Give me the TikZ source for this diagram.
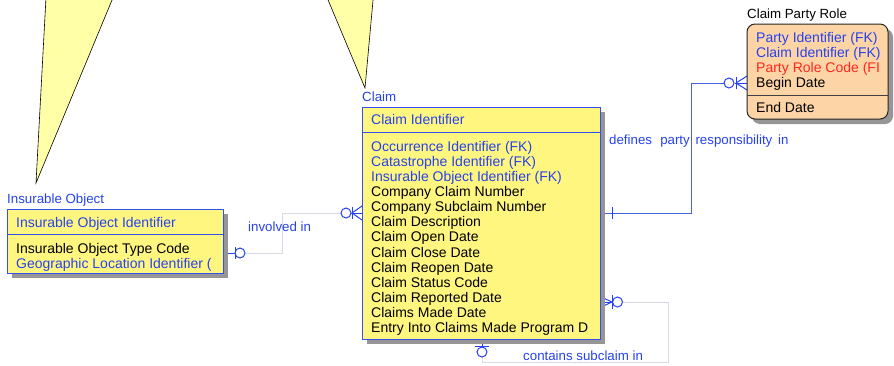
\documentclass[tikz,border=0pt]{standalone}
\usepackage{fontspec}
\setmainfont{Liberation Sans}
\usetikzlibrary{calc}
\definecolor{erblue}{RGB}{38,66,236}
\definecolor{boxblue}{RGB}{50,80,240}
\definecolor{yellowbox}{RGB}{255,246,128}
\definecolor{triyellow}{RGB}{255,255,168}
\definecolor{orangebox}{RGB}{253,212,166}
\definecolor{shadowc}{RGB}{150,150,150}
\definecolor{relgray}{RGB}{214,218,230}
\definecolor{linkblue}{RGB}{68,98,226}
\definecolor{redtxt}{RGB}{255,40,30}
\begin{document}
\begin{tikzpicture}[x=1pt,y=-1pt,
  txt/.style={inner sep=0pt, anchor=base west, font=\fontsize{14}{15}\selectfont},
  ttl/.style={inner sep=0pt, anchor=base west, font=\fontsize{13.3}{15}\selectfont},
  ybox/.style={draw=boxblue, line width=1pt, fill=yellowbox, anchor=north west, inner sep=0pt, outer sep=0pt},
  obox/.style={draw=black!85, line width=1pt, fill=orangebox, anchor=north west, inner sep=0pt, outer sep=0pt, rounded corners=8pt},
  shad/.style={fill=shadowc},
  relg/.style={draw=relgray, line width=1pt},
  relb/.style={draw=linkblue, line width=1pt},
  symb/.style={draw=erblue, line width=1pt},
  ring/.style={draw=erblue, line width=1pt, fill=white},
  tri/.style={draw=black, line width=0.6pt, fill=triyellow}
]
\useasboundingbox (0,0) rectangle (894,365);

% triangles (cut by the top edge)
\begin{scope}
\clip (0,0) rectangle (894,365);
\path[tri] (46.4,-10) -- (116.2,-10) -- (36,183) -- cycle;
\path[tri] (326,-5) -- (373.5,-5) -- (365,88) -- cycle;
\end{scope}

% entity anchors (boxes placed first so connectors can use names)
\path (362,107) coordinate (claimNW) (600,339) coordinate (claimSE);
\path (7,209) coordinate (ioNW) (223,273) coordinate (ioSE);
\path (747,24) coordinate (cprNW) (888,119) coordinate (cprSE);

% connection points
\coordinate (io-r) at (223,253);
\coordinate (cl-l) at (362,213);
\coordinate (cl-r1) at (600,213);
\coordinate (cpr-l) at (747,83);
\coordinate (cl-r2) at (600,302);
\coordinate (cl-b) at (482,339);

% ---------- involved in ----------
\draw[relg] (io-r) -- ++(59,0) |- (cl-l);
\draw[symb] (io-r) -- ++(12,0);
\draw[symb] ($(io-r)+(12,-6)$) -- ++(0,12);
\draw[ring] ($(io-r)+(17,0)$) circle (5);
\draw[symb] ($(cl-l)+(-11,0)$) -- (cl-l);
\draw[symb] ($(cl-l)+(-10,-6)$) -- ++(0,12);
\draw[symb] ($(cl-l)+(-10,0)$) -- ($(cl-l)+(0,-7)$);
\draw[symb] ($(cl-l)+(-10,0)$) -- ($(cl-l)+(0,7)$);
\draw[ring] ($(cl-l)+(-16,0)$) circle (5);

% ---------- defines party responsibility in ----------
\draw[relb] (cl-r1) -- ++(91,0) |- ($(cpr-l)+(-23,0)$);
\draw[symb] ($(cl-r1)+(12,-6)$) -- ++(0,12);
\draw[symb] ($(cpr-l)+(-12,0)$) -- (cpr-l);
\draw[symb] ($(cpr-l)+(-11,-6)$) -- ++(0,12);
\draw[symb] ($(cpr-l)+(-11,0)$) -- ($(cpr-l)+(0,-7)$);
\draw[symb] ($(cpr-l)+(-11,0)$) -- ($(cpr-l)+(0,7)$);
\draw[ring] ($(cpr-l)+(-18,0)$) circle (5);

% ---------- contains subclaim in ----------
\draw[relg] ($(cl-r2)+(22,0)$) -- ($(cl-r2)+(68,0)$) |- ($(cl-b)+(0,23)$) -- ($(cl-b)+(0,18)$);
\draw[symb] (cl-r2) -- ++(12.5,0);
\draw[symb] ($(cl-r2)+(12,0)$) -- ($(cl-r2)+(0,-5.5)$);
\draw[symb] ($(cl-r2)+(12,0)$) -- ($(cl-r2)+(0,5.5)$);
\draw[symb] ($(cl-r2)+(12,-7)$) -- ++(0,14);
\draw[ring] ($(cl-r2)+(17.5,0)$) circle (5);
\draw[symb] (cl-b) -- ++(0,8);
\draw[symb] ($(cl-b)+(-7,7)$) -- ++(14,0);
\draw[ring] ($(cl-b)+(0,13)$) circle (5);

% ---------- shadows ----------
\fill[shad] ($(claimNW)+(5,5)$) rectangle ($(claimSE)+(5,5)$);
\fill[shad] ($(ioNW)+(5,5)$) rectangle ($(ioSE)+(5,5)$);
\fill[shad, rounded corners=8pt] ($(cprNW)+(5,5)$) rectangle ($(cprSE)+(5,5)$);

% ---------- entity boxes ----------
\node[ybox, minimum width=238pt, minimum height=232pt] (claim) at (claimNW) {};
\draw[boxblue, line width=1pt] (claim.west |- 0,132) -- (claim.east |- 0,132);
\node[ybox, minimum width=216pt, minimum height=64pt] (io) at (ioNW) {};
\draw[boxblue, line width=1pt] (io.west |- 0,234) -- (io.east |- 0,234);
\node[obox, minimum width=141pt, minimum height=95pt] (cpr) at (cprNW) {};
\draw[black!75, line width=1pt] (cpr.west |- 0,95) -- (cpr.east |- 0,95);

% ---------- titles ----------
\node[ttl, text=erblue] (t-io) at (7,203) {Insurable Object};
\node[ttl, text=erblue] (t-cl) at (362,101.5) {Claim};
\node[ttl, text=black] (t-cpr) at (747,18.5) {Claim Party Role};

% ---------- Claim attributes ----------
\node[txt, text=erblue] (cl-pk) at (371,124.8) {Claim Identifier};
\node[txt, text=erblue] (cl-a1) at (371,151.3) {Occurrence Identifier (FK)};
\node[txt, text=erblue] (cl-a2) at (371,166.4) {Catastrophe Identifier (FK)};
\node[txt, text=erblue] (cl-a3) at (371,181.5) {Insurable Object Identifier (FK)};
\node[txt] (cl-a4) at (371,196.6) {Company Claim Number};
\node[txt] (cl-a5) at (371,211.7) {Company Subclaim Number};
\node[txt] (cl-a6) at (371,226.8) {Claim Description};
\node[txt] (cl-a7) at (371,241.9) {Claim Open Date};
\node[txt] (cl-a8) at (371,257.0) {Claim Close Date};
\node[txt] (cl-a9) at (371,272.1) {Claim Reopen Date};
\node[txt] (cl-a10) at (371,287.2) {Claim Status Code};
\node[txt] (cl-a11) at (371,302.3) {Claim Reported Date};
\node[txt] (cl-a12) at (371,317.4) {Claims Made Date};
\node[txt] (cl-a13) at (371,332.5) {Entry Into Claims Made Program D};

% ---------- Insurable Object attributes ----------
\node[txt, text=erblue] (io-pk) at (16,227) {Insurable Object Identifier};
\node[txt] (io-a1) at (16,253) {Insurable Object Type Code};
\node[txt, text=erblue] (io-a2) at (16,268) {Geographic Location Identifier (};

% ---------- Claim Party Role attributes ----------
\node[txt, text=erblue] (cpr-a1) at (756,42) {Party Identifier (FK)};
\node[txt, text=erblue] (cpr-a2) at (756,57) {Claim Identifier (FK)};
\node[txt, text=redtxt] (cpr-a3) at (756,72) {Party Role Code (FI};
\node[txt] (cpr-a4) at (756,87.3) {Begin Date};
\node[txt] (cpr-a5) at (756,112.5) {End Date};

% ---------- relationship labels ----------
\node[ttl, text=erblue] (r1) at (248,231.5) {involved in};
\node[ttl, text=erblue] (r2) at (609,144) {defines\hspace{4.5pt} party\hspace{2pt} responsibility\hspace{2pt} in};
\node[ttl, text=erblue] (r3) at (523,360) {contains subclaim in};
\end{tikzpicture}
\end{document}
